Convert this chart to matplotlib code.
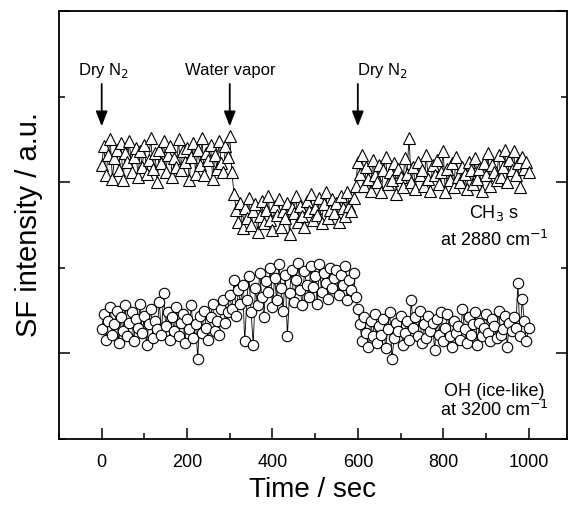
import numpy as np
import matplotlib.pyplot as plt
from matplotlib.ticker import MultipleLocator

plt.rcParams['font.family'] = ['Liberation Sans', 'DejaVu Sans']

# time axis (sec), one reading every 5 s
time = np.arange(0, 1001, 5)

# CH3 s signal at 2880 cm-1 (a.u.)
ch3_dry1 = [110, 121, 104, 116, 125, 102, 114, 119, 107, 123,
            101, 117, 112, 124, 106, 115, 120, 103, 118, 109,
            122, 105, 113, 126, 108, 117, 100, 119, 111, 124,
            106, 116, 121, 103, 114, 109, 125, 107, 118, 112,
            120, 101, 115, 123, 105, 119, 110, 126, 104, 117,
            113, 122, 102, 116, 108, 124, 111, 106, 121, 115]
ch3_wet = [127, 106, 93, 84, 77, 88, 73, 85, 79, 91,
           75, 83, 87, 71, 80, 89, 76, 84, 92, 78,
           72, 86, 81, 90, 74, 83, 79, 88, 70, 85,
           82, 92, 77, 86, 80, 74, 89, 83, 93, 78,
           85, 81, 91, 76, 87, 94, 79, 84, 90, 82,
           88, 77, 92, 85, 80, 94, 86, 83, 91, 98]
ch3_dry2 = [112, 105, 116, 98, 109, 102, 95, 113, 104, 100,
            110, 94, 107, 115, 99, 106, 101, 111, 93, 108,
            103, 97, 114, 105, 126, 100, 109, 96, 112, 104,
            107, 98, 116, 102, 95, 110, 104, 113, 99, 106,
            118, 94, 108, 101, 111, 97, 115, 103, 100, 109,
            105, 96, 112, 107, 99, 114, 102, 108, 95, 111,
            104, 117, 98, 110, 106, 101, 116, 103, 109, 119,
            100, 113, 107, 118, 104, 111, 97, 115, 108, 112,
            106]

# OH (ice-like) signal at 3200 cm-1 (a.u.)
oh_dry1 = [14, 23, 8, 19, 27, 11, 17, 25, 6, 21,
           13, 28, 10, 18, 24, 7, 20, 15, 29, 12,
           22, 5, 17, 26, 9, 19, 14, 30, 11, 35,
           16, 24, 8, 21, 13, 27, 10, 18, 23, 6,
           20, 14, 28, 9, 17, -3, 22, 12, 25, 15,
           8, 21, 29, 13, 19, 11, 26, 31, 18, 24]
oh_wet = [34, 26, 43, 22, 37, 29, 40, 7, 31, 45,
          24, 5, 38, 28, 47, 33, 21, 42, 36, 50,
          27, 44, 31, 52, 38, 25, 46, 10, 35, 49,
          30, 43, 53, 37, 28, 48, 40, 33, 51, 39,
          45, 29, 52, 36, 47, 41, 32, 50, 38, 44,
          49, 34, 46, 40, 51, 31, 43, 37, 47, 33]
oh_dry2 = [26, 17, 7, 21, 12, 4, 19, 10, 23, 6,
           16, 11, 20, 3, 14, 24, -3, 9, 18, 13,
           22, 5, 12, 19, 8, 31, 15, 21, 10, 25,
           6, 17, 9, 22, 13, 18, 2, 20, 11, 24,
           7, 15, 23, 10, 4, 19, 12, 16, 8, 26,
           14, 6, 21, 11, 17, 24, 5, 18, 10, 15,
           23, 12, 7, 20, 16, 9, 25, 11, 14, 22,
           4, 18, 13, 21, 15, 41, 10, 32, 19, 7,
           15]

ch3 = ch3_dry1 + ch3_wet + ch3_dry2
oh = oh_dry1 + oh_wet + oh_dry2

# gas switching events
events = [0, 300, 600]
event_labels = ['Dry N$_2$', 'Water vapor', 'Dry N$_2$']
label_x = [5, 302, 658]

fig = plt.figure(figsize=(5.68, 5.08), dpi=100)
ax = fig.add_axes([59 / 568, 69 / 508, 508 / 568, 428 / 508])

ax.plot(time, ch3, color='black', lw=0.6, marker='^', ms=8.5,
        mfc='white', mec='black', mew=0.8)
ax.plot(time, oh, color='black', lw=0.6, marker='o', ms=7.5,
        mfc='white', mec='black', mew=0.8)

for t, lab, lx in zip(events, event_labels, label_x):
    ax.annotate('', xy=(t, 131), xytext=(t, 159),
                arrowprops=dict(arrowstyle='-|>,head_length=0.9,head_width=0.35',
                                color='black', lw=1.3))
    ax.text(lx, 165, lab, ha='center', va='center', fontsize=12)

ax.text(920, 82, 'CH$_3$ s', ha='center', va='center', fontsize=13)
ax.text(920, 66, 'at 2880 cm$^{-1}$', ha='center', va='center', fontsize=13)
ax.text(920, -22, 'OH (ice-like)', ha='center', va='center', fontsize=13)
ax.text(920, -33, 'at 3200 cm$^{-1}$', ha='center', va='center', fontsize=13)

ax.set_xlim(-100, 1090)
ax.set_ylim(-50, 200)
ax.xaxis.set_major_locator(MultipleLocator(200))
ax.xaxis.set_minor_locator(MultipleLocator(100))
ax.yaxis.set_major_locator(MultipleLocator(100))
ax.yaxis.set_minor_locator(MultipleLocator(50))
ax.tick_params(which='both', direction='in', top=False, right=True,
               width=1.1, labelsize=13)
ax.tick_params(which='major', length=8)
ax.tick_params(which='minor', length=4)
ax.tick_params(axis='x', pad=11)
ax.set_yticklabels([])
ax.set_yticklabels([], minor=True)
for s in ax.spines.values():
    s.set_linewidth(1.3)

ax.set_xlabel('Time / sec', fontsize=20, labelpad=4)
ax.set_ylabel('SF intensity / a.u.', fontsize=21, labelpad=8)

fig.savefig('out.png', dpi=100)
